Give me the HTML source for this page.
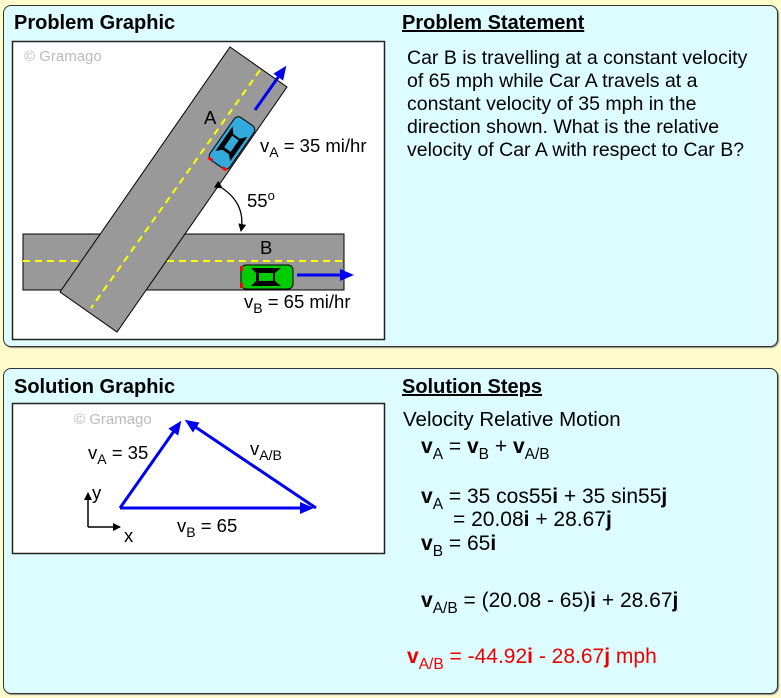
<!DOCTYPE html>
<html><head><style>
body{margin:0;width:781px;height:698px;background:#fffccc;font-family:"Liberation Sans",sans-serif;position:relative;overflow:hidden}
.panel{position:absolute;left:3px;width:773px;background:#dcfcff;border:1.5px solid #333;border-radius:8px;box-shadow:1px 1px 1px #888}
.t{position:absolute;font-size:20px;color:#000;white-space:nowrap}
.s{font-size:21px}
.h{font-weight:bold;font-size:20px}
.u{text-decoration:underline;text-decoration-thickness:2px}
sub{font-size:15.5px;vertical-align:-6px;line-height:0}
</style></head><body>
<div class="panel" style="top:5px;height:340px"></div>
<div class="panel" style="top:368px;height:324px"></div>

<div class="t h" style="left:14px;top:12px">Problem Graphic</div>
<div class="t h u" style="left:402px;top:12px">Problem Statement</div>
<div class="t" style="left:407px;top:47px;line-height:23px;font-size:19.5px">Car B is travelling at a constant velocity<br>of 65 mph while Car A travels at a<br>constant velocity of 35 mph in the<br>direction shown. What is the relative<br>velocity of Car A with respect to Car B?</div>

<svg style="position:absolute;left:0;top:0" width="781" height="698">
<defs>
<marker id="ab" markerWidth="14" markerHeight="12" refX="10" refY="6" orient="auto" markerUnits="userSpaceOnUse"><path d="M0,0L14,6L0,12z" fill="#0000ee"/></marker>
<marker id="ak" markerWidth="8" markerHeight="8" refX="7" refY="4" orient="auto" markerUnits="userSpaceOnUse"><path d="M0,0L8,4L0,8z" fill="#000"/></marker>
</defs>
<rect x="12.5" y="41.5" width="372" height="298" fill="#fff" stroke="#222" stroke-width="1.5"/>
<text x="24" y="61" font-size="15" fill="#bbb" font-family="Liberation Sans">© Gramago</text>
<rect x="23" y="234" width="321" height="56" fill="#999" stroke="#000"/>
<line x1="23" y1="261" x2="342" y2="261" stroke="#ff0" stroke-width="2" stroke-dasharray="7,5"/>
<polygon points="230,47 287,87 117,332 60,292" fill="#999" stroke="#000"/>
<line x1="260" y1="70" x2="91" y2="308" stroke="#ff0" stroke-width="2" stroke-dasharray="7,5"/>
<g transform="translate(232,143) rotate(-55)">
<rect x="-26" y="-12" width="52" height="24" rx="5" fill="#33aadd" stroke="#000"/>
<polygon points="-16,-9 14,-9 8,-4 8,4 14,9 -16,9 -11,4 -11,-4" fill="#000"/>
<rect x="-8" y="-4" width="14" height="8" fill="#33aadd"/>
<rect x="-27" y="-11" width="3" height="5" fill="red"/><rect x="-27" y="6" width="3" height="5" fill="red"/>
</g>
<g transform="translate(267,277)">
<rect x="-26" y="-12" width="52" height="24" rx="5" fill="#00cc00" stroke="#000"/>
<polygon points="-16,-9 14,-9 8,-4 8,4 14,9 -16,9 -11,4 -11,-4" fill="#000"/>
<rect x="-8" y="-4" width="14" height="8" fill="#00cc00"/>
<rect x="-27" y="-11" width="3" height="5" fill="red"/><rect x="-27" y="6" width="3" height="5" fill="red"/>
</g>
<line x1="255" y1="110" x2="284" y2="69" stroke="#0000ee" stroke-width="3" marker-end="url(#ab)"/>
<line x1="297" y1="275" x2="350" y2="275" stroke="#0000ee" stroke-width="3" marker-end="url(#ab)"/>
<path d="M222,188 Q246,204 241,231" fill="none" stroke="#000" stroke-width="1.3" marker-end="url(#ak)" marker-start="url(#ak)"/>
<g font-family="Liberation Sans" font-size="18.5" fill="#000">
<text x="204" y="124">A</text>
<text x="260" y="152">v<tspan font-size="14" dy="5">A</tspan><tspan dy="-5"> = 35 mi/hr</tspan></text>
<text x="247" y="207">55<tspan font-size="13" dy="-7">o</tspan></text>
<text x="260" y="254">B</text>
<text x="244" y="308">v<tspan font-size="14" dy="5">B</tspan><tspan dy="-5"> = 65 mi/hr</tspan></text>
</g>

<rect x="12.5" y="403.5" width="372" height="150" fill="#fff" stroke="#222" stroke-width="1.5"/>
<text x="74" y="424" font-size="15" fill="#bbb" font-family="Liberation Sans">© Gramago</text>
<line x1="120" y1="508" x2="179" y2="424" stroke="#0000ee" stroke-width="3" marker-end="url(#ab)"/>
<line x1="316" y1="508" x2="188" y2="422" stroke="#0000ee" stroke-width="3" marker-end="url(#ab)"/>
<line x1="120" y1="508" x2="310" y2="508" stroke="#0000ee" stroke-width="3" marker-end="url(#ab)"/>
<line x1="88" y1="527" x2="88" y2="493" stroke="#000" stroke-width="1.5" marker-end="url(#ak)"/>
<line x1="88" y1="527" x2="120" y2="527" stroke="#000" stroke-width="1.5" marker-end="url(#ak)"/>
<g font-family="Liberation Sans" font-size="18.5" fill="#000">
<text x="88" y="459">v<tspan font-size="14" dy="5">A</tspan><tspan dy="-5"> = 35</tspan></text>
<text x="250" y="455">v<tspan font-size="14" dy="5">A/B</tspan></text>
<text x="177" y="532">v<tspan font-size="14" dy="5">B</tspan><tspan dy="-5"> = 65</tspan></text>
<text x="92" y="499">y</text>
<text x="124" y="542">x</text>
</g>
</svg>

<div class="t h" style="left:14px;top:376px">Solution Graphic</div>
<div class="t h u" style="left:402px;top:376px">Solution Steps</div>
<div class="t" style="left:403px;top:408px;font-size:20.5px">Velocity Relative Motion</div>
<div class="t s" style="left:421px;top:435px"><b>v</b><sub>A</sub> = <b>v</b><sub>B</sub> + <b>v</b><sub>A/B</sub></div>
<div class="t s" style="left:421px;top:485px"><b>v</b><sub>A</sub> = 35 cos55<b>i</b> + 35 sin55<b>j</b></div>
<div class="t s" style="left:453px;top:508px">= 20.08<b>i</b> + 28.67<b>j</b></div>
<div class="t s" style="left:421px;top:532px"><b>v</b><sub>B</sub> = 65<b>i</b></div>
<div class="t s" style="left:421px;top:589px"><b>v</b><sub>A/B</sub> = (20.08 - 65)<b>i</b> + 28.67<b>j</b></div>
<div class="t s" style="left:407px;top:645px;color:#ee0000"><b>v</b><sub>A/B</sub> = -44.92<b>i</b> - 28.67<b>j</b> mph</div>
</body></html>
